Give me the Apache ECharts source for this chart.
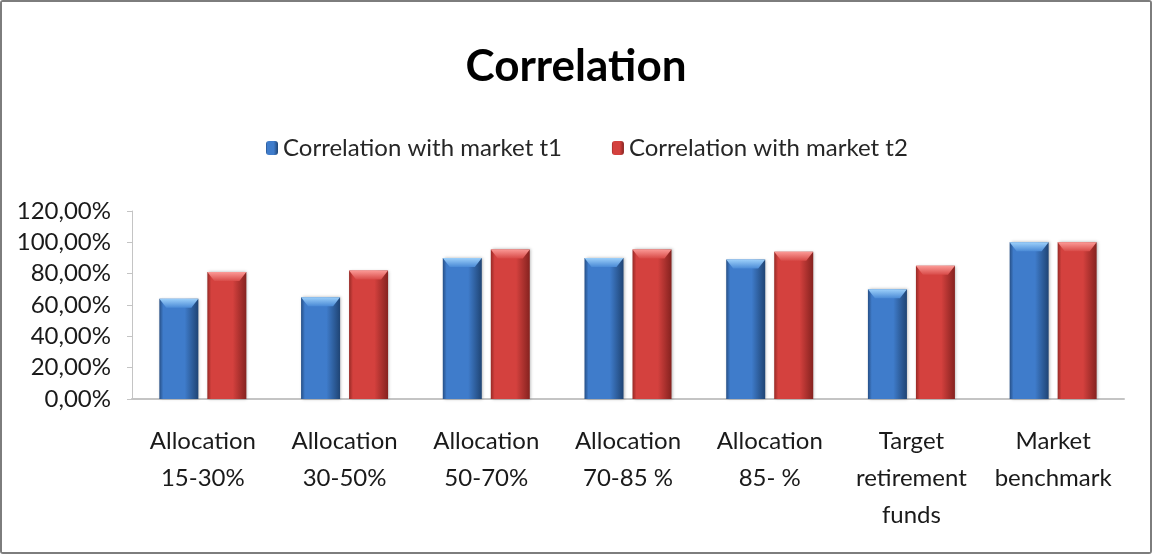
<!DOCTYPE html>
<html>
<head>
<meta charset="utf-8">
<script src="https://cdn.jsdelivr.net/npm/echarts@6/dist/echarts.min.js"></script>
<style>
  html, body { margin: 0; padding: 0; background: #fff; }
  #chart {
    width: 1152px; height: 554px; box-sizing: border-box;
    border: 2px solid #7d7d7d; border-radius: 3px;
    box-shadow: inset 1px 1px 0 1px #c4c4c4;
  }
</style>
</head>
<body>
<div id="chart"></div>
<script>
// Category labels (two- and three-line)
const categories = [
  'Allocation\n15-30%',
  'Allocation\n30-50%',
  'Allocation\n50-70%',
  'Allocation\n70-85 %',
  'Allocation\n85- %',
  'Target\nretirement\nfunds',
  'Market\nbenchmark'
];
// Correlation values, in percent
const seriesT1 = [64, 65, 90, 90, 89, 70, 100];
const seriesT2 = [81, 82, 95.5, 95.5, 94, 85, 100];
const seriesNames = ['Correlation with market t1', 'Correlation with market t2'];

const FONT = '"Liberation Sans Narrow", "Lato", sans-serif';
const BAR_W = 39;
const BAR_GAP = 9;

function barGradient(edgeL, mid, edgeR) {
  return new echarts.graphic.LinearGradient(0, 0, 1, 0, [
    { offset: 0, color: edgeL },
    { offset: 0.1, color: mid },
    { offset: 0.65, color: mid },
    { offset: 1, color: edgeR }
  ]);
}

// Bevelled cap drawn on top of each bar of one series
function bevelSeries(values, side, light, mid) {
  return {
    type: 'custom',
    silent: true,
    z: 3,
    data: values.map((v, i) => [i, v]),
    renderItem: function (params, api) {
      const top = api.coord([api.value(0), api.value(1)]);
      const cx = top[0];
      const x0 = side === 0 ? cx - BAR_GAP / 2 - BAR_W : cx + BAR_GAP / 2;
      const x1 = x0 + BAR_W;
      const y = top[1];
      const h = 9, inset = 7;
      return {
        type: 'polygon',
        shape: { points: [[x0, y], [x1, y], [x1 - inset, y + h], [x0 + inset, y + h]] },
        style: {
          fill: new echarts.graphic.LinearGradient(0, 0, 0, 1, [
            { offset: 0, color: light },
            { offset: 1, color: mid }
          ])
        }
      };
    }
  };
}

const chart = echarts.init(document.getElementById('chart'), null, { renderer: 'canvas' });
chart.setOption({
  backgroundColor: '#ffffff',
  animation: false,
  title: {
    text: 'Correlation',
    left: 'center',
    top: 38,
    textStyle: { fontFamily: FONT, fontSize: 44, fontWeight: 'bold', color: '#000' }
  },
  legend: {
    top: 129,
    left: 259,
    itemWidth: 12,
    itemHeight: 14,
    itemGap: 50,
    textStyle: { fontFamily: FONT, fontSize: 24, color: '#262626' },
    data: seriesNames
  },
  grid: { left: 130, right: 26, top: 209, bottom: 153 },
  xAxis: {
    type: 'category',
    data: categories,
    axisLine: { lineStyle: { color: '#c4c4c4', width: 2 } },
    axisTick: { show: false },
    axisLabel: {
      fontFamily: FONT, fontSize: 24, color: '#1a1a1a',
      lineHeight: 37, margin: 24, interval: 0
    }
  },
  yAxis: {
    type: 'value',
    min: 0, max: 120, interval: 20,
    splitLine: { show: false },
    axisLine: { show: true, lineStyle: { color: '#c4c4c4', width: 1 } },
    axisTick: { show: true, length: 5, lineStyle: { color: '#c4c4c4' } },
    axisLabel: {
      fontFamily: FONT, fontSize: 24, color: '#1a1a1a', margin: 21,
      formatter: v => v.toFixed(2).replace('.', ',') + '%'
    }
  },
  series: [
    {
      name: seriesNames[0],
      type: 'bar',
      data: seriesT1,
      barWidth: BAR_W,
      barGap: (BAR_GAP / BAR_W * 100) + '%',
      itemStyle: {
        color: barGradient('#264f86', '#3f7ccb', '#1f4474'),
        shadowColor: 'rgba(0,0,0,0.3)', shadowBlur: 3, shadowOffsetX: 1
      }
    },
    {
      name: seriesNames[1],
      type: 'bar',
      data: seriesT2,
      barWidth: BAR_W,
      itemStyle: {
        color: barGradient('#972a26', '#d4413e', '#85221f'),
        shadowColor: 'rgba(0,0,0,0.3)', shadowBlur: 3, shadowOffsetX: 1
      }
    },
    bevelSeries(seriesT1, 0, '#9dd0fa', '#4a8ad6'),
    bevelSeries(seriesT2, 1, '#fb9a96', '#d84a47')
  ]
});
</script>
</body>
</html>
